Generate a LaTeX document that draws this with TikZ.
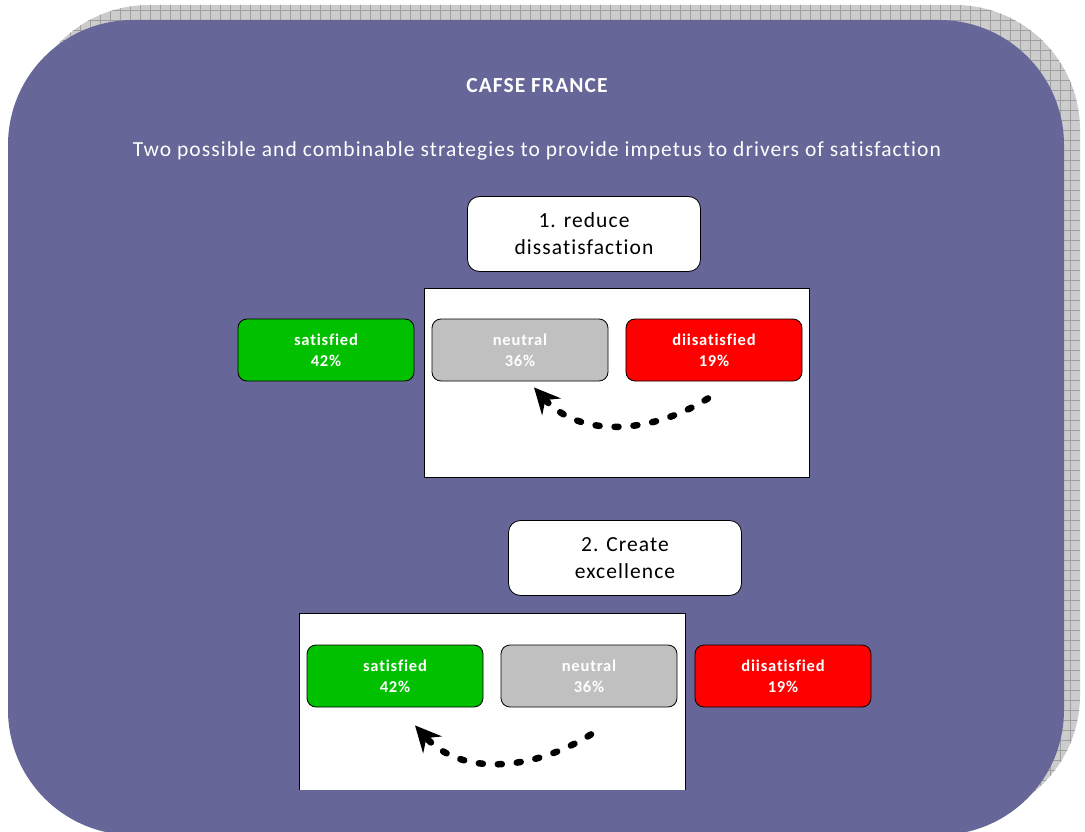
\documentclass[tikz,border=0pt]{standalone}
\usepackage{fontspec}
\setmainfont{Carlito}[Ligatures=CommonOff,LetterSpace=5]
\usetikzlibrary{arrows.meta}
\definecolor{panelblue}{RGB}{102,102,153}
\definecolor{satgreen}{RGB}{0,192,0}
\definecolor{neugray}{RGB}{192,192,192}
\definecolor{disred}{RGB}{255,0,0}

\tikzset{
  ratebox/.style={draw,thick,rounded corners=9pt,minimum width=176pt,
    minimum height=62pt,text=white,align=center,
    font=\fontsize{16.5}{21}\selectfont\bfseries},
  headbox/.style={draw,thick,fill=white,rounded corners=12pt,minimum width=233pt,
    minimum height=75pt,align=center,font=\fontsize{21.5}{27}\selectfont},
  shift arrow/.style={line width=6.5pt,line cap=round,dash pattern=on 4pt off 15pt,
    -{Stealth[length=26pt,width=25pt,inset=9pt]}},
}

\begin{document}
\begin{tikzpicture}[x=1pt,y=1pt]
\clip (0,0) rectangle (1085,-832);
\begin{scope}
  \clip[rounded corners=125pt] (24,-5) rectangle (1080,-820);
  \fill[gray!40] (0,0) rectangle (1085,-832);
  \draw[gray!75,line width=0.6pt,step=10] (0,0) grid (1085,-832);
\end{scope}
\fill[panelblue,rounded corners=125pt] (8,-20) rectangle (1064,-835);

\node[font=\fontsize{21.5}{24}\selectfont\bfseries,text=white] (title) at (537,-86) {CAFSE FRANCE};
\node[font=\fontsize{21.5}{24}\selectfont,text=white] (subtitle) at (537,-151)
  {Two possible and combinable strategies to provide impetus to drivers of satisfaction};

% strategy 1
\node[headbox] (reduce) at (584,-234) {1. reduce\\dissatisfaction};
\draw[fill=white,semithick] (424,-288) rectangle (809,-477);
\matrix[column sep={194pt,between origins}] at (520,-350)
{ \node[ratebox,fill=satgreen](sat1) {satisfied\\42\%}; &
  \node[ratebox,fill=neugray](neu1) {neutral\\36\%}; &
  \node[ratebox,fill=disred](dis1) {diisatisfied\\19\%}; \\};
\draw[shift arrow] ([shift={(-6,-17)}]dis1.south) to[out=-148,in=-48]
  ([shift={(14,-6)}]neu1.south);

% strategy 2
\node[headbox] (excel) at (625,-558) {2. Create\\excellence};
\fill[white] (299,-613) rectangle (685,-790);
\draw[semithick] (299,-790) -- (299,-613) -- (685,-613) -- (685,-790);
\matrix[column sep={194pt,between origins}] at (589,-676)
{ \node[ratebox,fill=satgreen](sat2) {satisfied\\42\%}; &
  \node[ratebox,fill=neugray](neu2) {neutral\\36\%}; &
  \node[ratebox,fill=disred](dis2) {diisatisfied\\19\%}; \\};
\draw[shift arrow] ([shift={(2,-27)}]neu2.south) to[out=-148,in=-48]
  ([shift={(20,-18)}]sat2.south);
\end{tikzpicture}
\end{document}
